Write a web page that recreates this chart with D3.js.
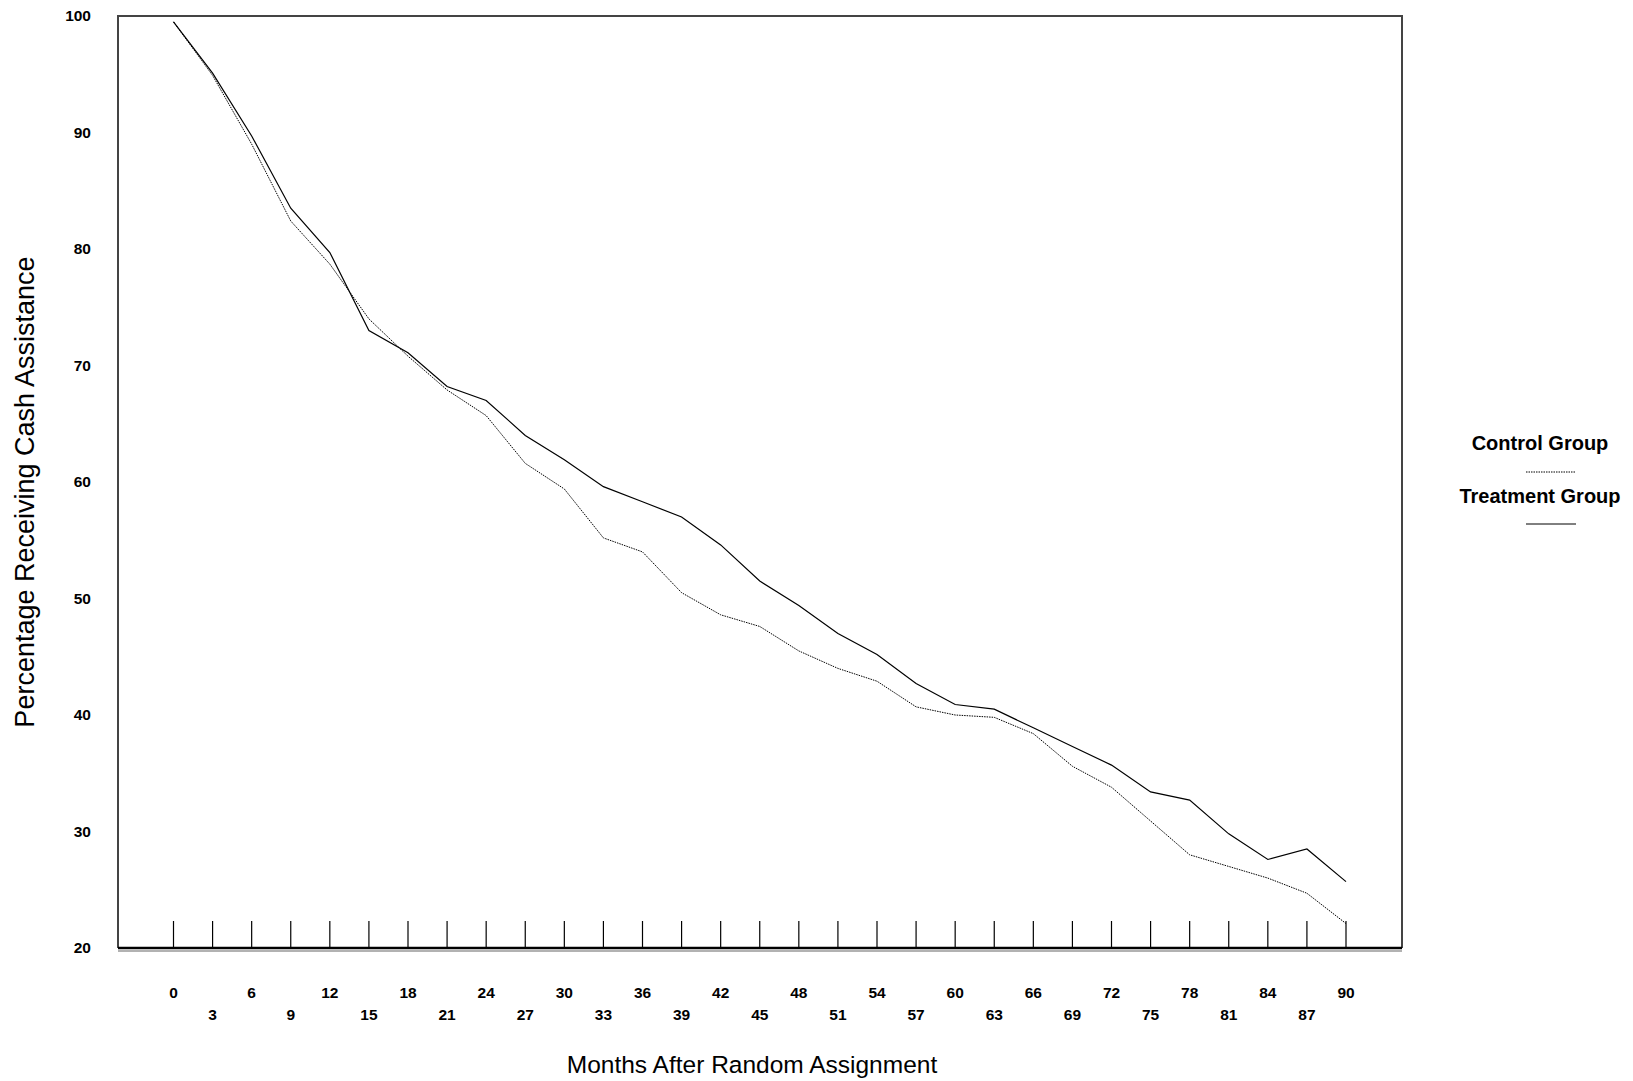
<!DOCTYPE html>
<html><head><meta charset="utf-8">
<script src="https://cdn.jsdelivr.net/npm/d3@7"></script>
<style>body{margin:0;background:#fff}text{font-family:Arial,"Liberation Sans",sans-serif}</style>
</head><body><svg id="c" width="1633" height="1081"></svg>
<script>
const months=d3.range(0,91,3);
const treatment=[99.5,95.1,89.7,83.5,79.7,73.0,71.1,68.2,67.0,64.0,61.9,59.6,58.3,57.0,54.6,51.5,49.4,47.0,45.2,42.7,40.9,40.5,38.9,37.3,35.7,33.4,32.7,29.8,27.6,28.5,25.7];
const control=[99.5,94.9,89.0,82.4,78.7,74.0,70.8,67.9,65.7,61.6,59.4,55.2,54.0,50.5,48.6,47.6,45.5,44.0,42.9,40.7,40.0,39.8,38.4,35.6,33.8,30.9,28.0,27.0,26.0,24.7,22.1];
const yTicks=[20,30,40,50,60,70,80,90,100];
const svg=d3.select("#c");
const L=118,R=1402,T=16,B=948;
const x=d3.scaleLinear().domain([0,90]).range([173.5,1346]);
const y=d3.scaleLinear().domain([20,100]).range([B,T]);
svg.append("path").attr("d",`M${L},${B}V${T}H${R}V${B}`).attr("fill","none").attr("stroke","#444").attr("stroke-width",2);
svg.append("line").attr("x1",L).attr("x2",R).attr("y1",B).attr("y2",B).attr("stroke","#000").attr("stroke-width",2.5);
svg.append("line").attr("x1",L).attr("x2",R).attr("y1",B+3).attr("y2",B+3).attr("stroke","#999").attr("stroke-width",1.5);
svg.selectAll(".tk").data(months).join("line").attr("x1",d=>x(d)).attr("x2",d=>x(d)).attr("y1",921).attr("y2",B).attr("stroke","#000").attr("stroke-width",1.2);
svg.selectAll(".xl").data(months).join("text").attr("x",d=>x(d)).attr("y",(d,i)=>i%2?1020:998).attr("text-anchor","middle").attr("font-weight","bold").attr("font-size",15.5).text(d=>d);
svg.selectAll(".yl").data(yTicks).join("text").attr("x",91).attr("y",d=>y(d)+5).attr("text-anchor","end").attr("font-weight","bold").attr("font-size",15.5).text(d=>d);
svg.append("text").attr("x",752).attr("y",1073).attr("text-anchor","middle").attr("font-size",24.5).text("Months After Random Assignment");
svg.append("text").attr("transform","translate(34,492) rotate(-90)").attr("text-anchor","middle").attr("font-size",27).text("Percentage Receiving Cash Assistance");
const line=d3.line().x((d,i)=>x(months[i])).y(d=>y(d));
svg.append("path").attr("d",line(control)).attr("fill","none").attr("stroke","#000").attr("stroke-width",1).attr("stroke-dasharray","1.5,1");
svg.append("path").attr("d",line(treatment)).attr("fill","none").attr("stroke","#000").attr("stroke-width",1.2);
svg.append("text").attr("x",1540).attr("y",450).attr("text-anchor","middle").attr("font-weight","bold").attr("font-size",20).text("Control Group");
svg.append("line").attr("x1",1526).attr("x2",1576).attr("y1",472).attr("y2",472).attr("stroke","#000").attr("stroke-dasharray","1.5,1");
svg.append("text").attr("x",1540).attr("y",503).attr("text-anchor","middle").attr("font-weight","bold").attr("font-size",20).text("Treatment Group");
svg.append("line").attr("x1",1526).attr("x2",1576).attr("y1",524).attr("y2",524).attr("stroke","#000");
</script></body></html>
